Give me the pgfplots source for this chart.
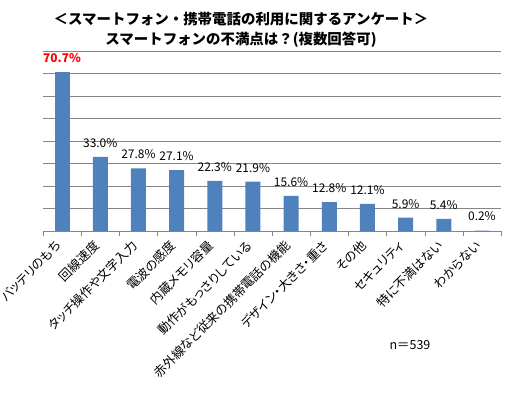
\documentclass[border=0pt]{standalone}
\usepackage{pgfplots}
\pgfplotsset{compat=1.18}
\usepackage{fontspec}
\setmainfont{Noto Sans CJK JP}
\newfontfamily\pfont{Noto Sans CJK JP}[RawFeature=+palt]
\definecolor{barblue}{HTML}{4F81BD}
\definecolor{gridgray}{HTML}{868686}
\begin{document}
\begin{tikzpicture}[x=1bp,y=1bp]
\useasboundingbox (0,0) rectangle (507,-392);
\node[font=\bfseries\fontsize{14.5}{20}\selectfont, align=center] at (241,-30)
  {＜スマートフォン・携帯電話の利用に関するアンケート＞\\スマートフォンの不満点は？(複数回答可)};
\begin{axis}[
  at={(43bp,-231bp)}, anchor=south west,
  scale only axis, width=458bp, height=180bp,
  xmin=-0.5, xmax=11.5, ymin=0, ymax=80,
  ybar, bar width=15bp, bar shift=0pt,
  axis x line*=bottom,
  y axis line style={draw=none},
  x axis line style={draw=gridgray},
  ytick={0,10,...,80}, yticklabels={}, ytick style={draw=none},
  ymajorgrids, major grid style={draw=gridgray},
  xtick={0,...,11},
  xticklabels={バッテリのもち,回線速度,タッチ操作や文字入力,電波の感度,内蔵メモリ容量,動作がもっさりしている,赤外線など従来の携帯電話の機能,デザイン・大きさ・重さ,その他,セキュリティ,特に不満はない,わからない},
  minor xtick={-0.5,0.5,...,11.5},
  major tick length=0pt, minor tick length=5bp,
  tick align=outside,
  minor x tick style={draw=gridgray},
  xticklabel style={xshift=-1bp, yshift=-10bp, rotate=45, anchor=east, font=\pfont\fontsize{12.6}{12.6}\selectfont},
  /pgf/number format/assume math mode=true,
  nodes near coords={\pgfmathprintnumber[fixed,fixed zerofill,precision=1]{\pgfplotspointmeta}\%},
  every node near coord/.append style={anchor=center, yshift=14bp, font=\fontsize{12}{12}\selectfont, text=black},
]
\addplot[fill=barblue, draw=none, every node near coord/.append style={text=red, font=\bfseries\fontsize{12}{12}\selectfont}] coordinates {(0,70.7)};
\addplot[fill=barblue, draw=none] coordinates {
(1,33.0) (2,27.8) (3,27.1) (4,22.3) (5,21.9) (6,15.6) (7,12.8) (8,12.1) (9,5.9) (10,5.4) (11,0.2)};
\end{axis}
\node[font=\fontsize{12.5}{12.5}\selectfont] at (410,-345) {n＝539};
\end{tikzpicture}
\end{document}
